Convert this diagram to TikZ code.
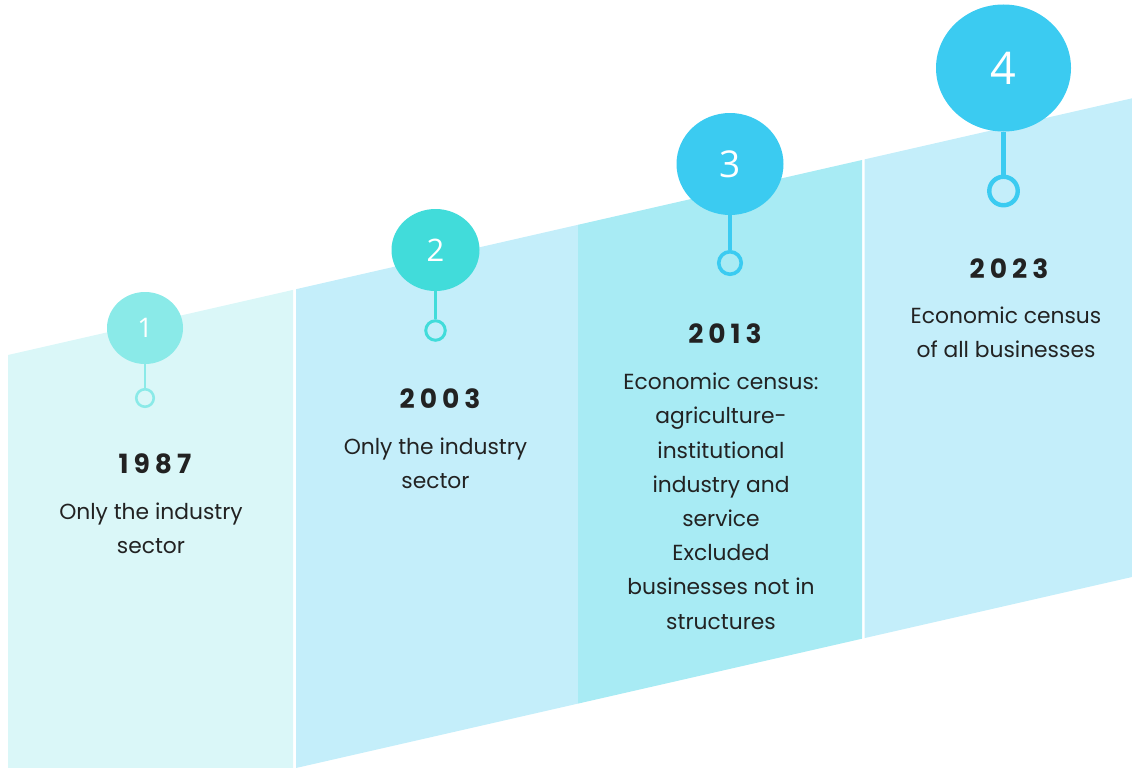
\documentclass[tikz,border=0pt]{standalone}
\usepackage{fontspec}
\setmainfont{Poppins}
\newfontfamily\numfont{Open Sans}
\usetikzlibrary{shapes.geometric}

\definecolor{panelA}{HTML}{DAF7F8}
\definecolor{panelB}{HTML}{C4EEFA}
\definecolor{panelC}{HTML}{A8EBF4}
\definecolor{dotA}{HTML}{8AEAE8}
\definecolor{dotB}{HTML}{41DCDA}
\definecolor{dotC}{HTML}{3BCBF1}
\definecolor{ink}{HTML}{222222}

\tikzset{
  badge/.style={ellipse, inner sep=0pt, text=white, font=\numfont},
  ring/.style={circle, inner sep=0pt, line width=#1},
  stem/.style={line width=#1},
  yearlbl/.style={anchor=base, inner sep=0pt, text=ink,
    font=\fontsize{26.5}{30}\selectfont\bfseries\addfontfeature{LetterSpace=19}},
  bodytxt/.style={anchor=north, inner sep=0pt, align=center, text=ink,
    font=\fontsize{21.8}{34.2}\selectfont}
}

\begin{document}
\begin{tikzpicture}[x=1pt, y=-1pt]
\useasboundingbox (0,0) rectangle (1132,768);

% rising band of four panels
\fill[panelA] (8,355) -- (293,289.9) -- (293,768) -- (8,768) -- cycle;
\fill[panelB] (296,289.2) -- (578,224.8) -- (578,703.6) -- (296,768) -- cycle;
\fill[panelC] (578,224.8) -- (862,160) -- (862,638.7) -- (578,703.6) -- cycle;
\fill[panelB] (864.5,159.4) -- (1132,98.3) -- (1132,577) -- (864.5,638.1) -- cycle;

% step 1
\node[badge, fill=dotA, minimum width=76, minimum height=72, font=\numfont\fontsize{27}{30}\selectfont] (c1) at (145,328) {1};
\node[ring=2.6pt, draw=dotA, minimum size=17.5] (r1) at (145,398) {};
\draw[stem=2.6pt, dotA] (c1.south) -- (r1.north);

% step 2
\node[badge, fill=dotB, minimum width=88, minimum height=82, font=\numfont\fontsize{31}{34}\selectfont] (c2) at (435.5,250) {2};
\node[ring=3pt, draw=dotB, minimum size=19.5] (r2) at (435.5,330.5) {};
\draw[stem=3pt, dotB] (c2.south) -- (r2.north);

% step 3
\node[badge, fill=dotC, minimum width=107, minimum height=102, font=\numfont\fontsize{37}{40}\selectfont] (c3) at (730,164) {3};
\node[ring=3.6pt, draw=dotC, minimum size=22.5] (r3) at (730,263) {};
\draw[stem=3.6pt, dotC] (c3.south) -- (r3.north);

% step 4
\node[badge, fill=dotC, minimum width=135, minimum height=127, font=\numfont\fontsize{45}{48}\selectfont] (c4) at (1003.5,68) {4};
\node[ring=4.4pt, draw=dotC, minimum size=28.5] (r4) at (1003.5,191) {};
\draw[stem=4.4pt, dotC] (c4.south) -- (r4.north);

% years
\node[yearlbl] (y1) at (155,473) {1987};
\node[yearlbl] (y2) at (440,408) {2003};
\node[yearlbl] (y3) at (725,343) {2013};
\node[yearlbl] (y4) at (1009,278) {2023};

% descriptions
\node[bodytxt] (d1) at (151,503) {Only the industry\\sector};
\node[bodytxt] (d2) at (435.5,438) {Only the industry\\sector};
\node[bodytxt] (d3) at (721,373) {Economic census:\\agriculture-\\institutional\\industry and\\service\\Excluded\\businesses not in\\structures};
\node[bodytxt] (d4) at (1006,307) {Economic census\\of all businesses};
\end{tikzpicture}
\end{document}
